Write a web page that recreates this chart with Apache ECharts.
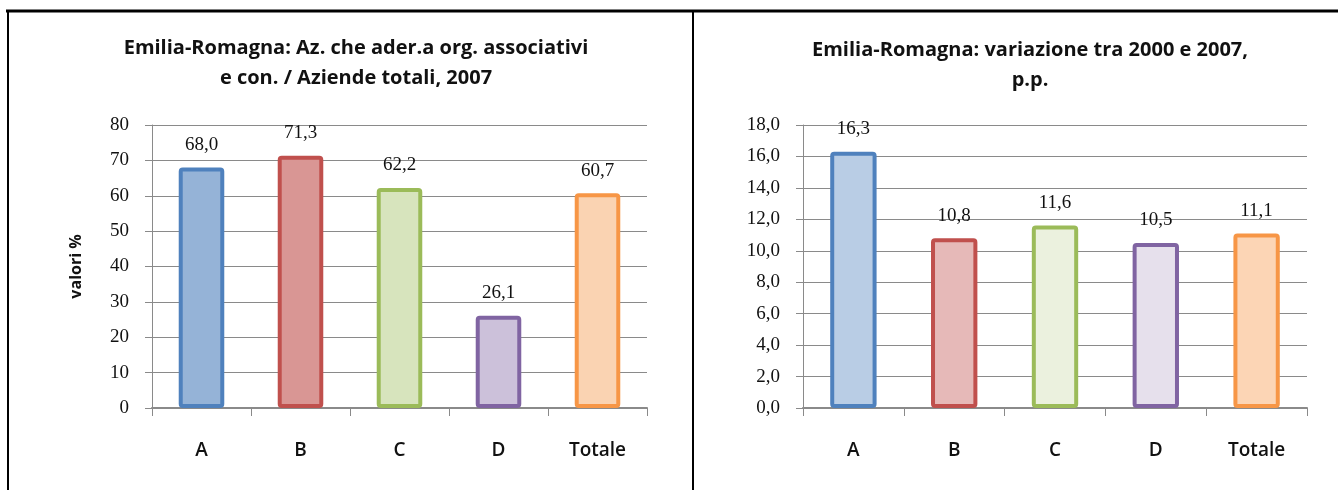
<!DOCTYPE html>
<html>
<head>
<meta charset="utf-8">
<script src="https://cdn.jsdelivr.net/npm/echarts@6/dist/echarts.min.js"></script>
<style>
  html, body { margin: 0; padding: 0; background: #fff; }
  #chart { width: 1338px; height: 490px; }
</style>
</head>
<body>
<div id="chart"></div>
<script>
// Categories and values for the two panels
const categories = ['A', 'B', 'C', 'D', 'Totale'];
// Share of farms joining economic associations, 2007 (%)
const quotaAdesione2007 = [68.0, 71.3, 62.2, 26.1, 60.7];
// Change between 2000 and 2007 (percentage points)
const variazione2000_2007 = [16.3, 10.8, 11.6, 10.5, 11.1];

// Bar palette: outline and fill per category
const borderColors = ['#4F81BD', '#C0504D', '#9BBB59', '#8064A2', '#F79646'];
const fillLeft = ['#95B3D7', '#D99694', '#D7E4BD', '#CCC1DA', '#FAD3B2'];
const fillRight = ['#B9CDE5', '#E6B9B8', '#EBF1DE', '#E6E0EC', '#FCD5B5'];

const comma = (v, d) => v.toFixed(d).replace('.', ',');
const gridColor = '#8a8a8a';
const sans = '"Open Sans", "Liberation Sans", Arial, sans-serif';
const serif = '"Liberation Serif", "Times New Roman", serif';

function barData(values, fills) {
  return values.map((v, i) => ({
    value: v,
    itemStyle: {
      color: fills[i],
      borderColor: borderColors[i],
      borderWidth: 4,
      borderRadius: 2
    }
  }));
}

function xAxis(gridIndex) {
  return {
    type: 'category',
    gridIndex,
    data: categories,
    boundaryGap: true,
    axisLine: { lineStyle: { color: gridColor, width: 2 } },
    axisTick: { show: true, length: 8, lineStyle: { color: gridColor, width: 1 } },
    axisLabel: { fontFamily: sans, fontSize: 19, fontWeight: 600, color: '#111', margin: 33 }
  };
}

function yAxis(gridIndex, max, interval, digits, name) {
  return {
    type: 'value',
    gridIndex,
    min: 0,
    max,
    interval,
    name: name || '',
    nameLocation: 'middle',
    nameGap: 68,
    nameRotate: 90,
    nameTextStyle: { fontFamily: sans, fontSize: 16, fontWeight: 'bold', color: '#111' },
    axisLine: { show: true, lineStyle: { color: gridColor, width: 1 } },
    axisTick: { show: true, length: 7, lineStyle: { color: gridColor } },
    axisLabel: {
      fontFamily: serif, fontSize: 19, color: '#111', margin: 23,
      formatter: v => comma(v, digits)
    },
    splitLine: { show: true, lineStyle: { color: gridColor, width: 1 } }
  };
}

function series(axisIndex, values, fills) {
  return {
    type: 'bar',
    xAxisIndex: axisIndex,
    yAxisIndex: axisIndex,
    data: barData(values, fills),
    barWidth: '46%',
    label: {
      show: true,
      position: 'top',
      distance: 13,
      fontFamily: serif,
      fontSize: 19,
      color: '#111',
      formatter: p => comma(p.value, 1)
    }
  };
}

const chart = echarts.init(document.getElementById('chart'), null, { renderer: 'canvas' });

const titleStyle = { fontFamily: sans, fontSize: 20, fontWeight: 'bold', color: '#111', lineHeight: 30 };

chart.setOption({
  backgroundColor: '#ffffff',
  animation: false,
  title: [
    {
      text: 'Emilia-Romagna: Az. che ader.a org. associativi\ne con. / Aziende totali, 2007',
      left: 351, top: 28, textAlign: 'center',
      textStyle: titleStyle
    },
    {
      text: 'Emilia-Romagna: variazione tra 2000 e 2007,\np.p.',
      left: 1025, top: 30, textAlign: 'center',
      textStyle: titleStyle
    }
  ],
  grid: [
    { left: 152, right: 691, top: 125, bottom: 82 },
    { left: 803, right: 31, top: 125, bottom: 82 }
  ],
  xAxis: [xAxis(0), xAxis(1)],
  yAxis: [yAxis(0, 80, 10, 0, 'valori %'), yAxis(1, 18, 2, 1)],
  series: [
    series(0, quotaAdesione2007, fillLeft),
    series(1, variazione2000_2007, fillRight)
  ],
  graphic: [
    { type: 'line', shape: { x1: 6, y1: 11, x2: 1338, y2: 11 }, style: { stroke: '#000', lineWidth: 3 } },
    { type: 'line', shape: { x1: 8, y1: 10, x2: 8, y2: 490 }, style: { stroke: '#000', lineWidth: 2 } },
    { type: 'line', shape: { x1: 693, y1: 10, x2: 693, y2: 490 }, style: { stroke: '#000', lineWidth: 2 } }
  ]
});
</script>
</body>
</html>
